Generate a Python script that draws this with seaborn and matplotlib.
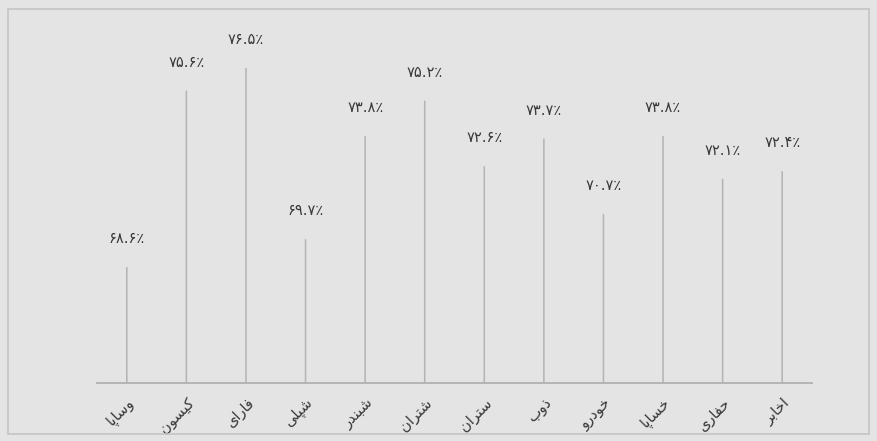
import matplotlib
matplotlib.use("Agg")
import matplotlib.pyplot as plt
import seaborn as sns
import pandas as pd
from matplotlib.patches import Rectangle

# ---- data ----
categories = ["وساپا", "کیسون", "فارای", "شپلی", "شبندر", "شتران",
              "ستران", "ذوب", "خودرو", "خساپا", "حفاری", "اخابر"]
values = [68.6, 75.6, 76.5, 69.7, 73.8, 75.2, 72.6, 73.7, 70.7, 73.8, 72.1, 72.4]

# ---- minimal Arabic/Persian shaping (no external libs) ----
FORMS = {  # isolated, final, initial, medial
    "ا": ("\uFE8D", "\uFE8E", None, None),
    "ب": ("\uFE8F", "\uFE90", "\uFE91", "\uFE92"),
    "پ": ("\uFB56", "\uFB57", "\uFB58", "\uFB59"),
    "ت": ("\uFE95", "\uFE96", "\uFE97", "\uFE98"),
    "ح": ("\uFEA1", "\uFEA2", "\uFEA3", "\uFEA4"),
    "خ": ("\uFEA5", "\uFEA6", "\uFEA7", "\uFEA8"),
    "د": ("\uFEA9", "\uFEAA", None, None),
    "ذ": ("\uFEAB", "\uFEAC", None, None),
    "ر": ("\uFEAD", "\uFEAE", None, None),
    "س": ("\uFEB1", "\uFEB2", "\uFEB3", "\uFEB4"),
    "ش": ("\uFEB5", "\uFEB6", "\uFEB7", "\uFEB8"),
    "ف": ("\uFED1", "\uFED2", "\uFED3", "\uFED4"),
    "ک": ("\uFB8E", "\uFB8F", "\uFB90", "\uFB91"),
    "ل": ("\uFEDD", "\uFEDE", "\uFEDF", "\uFEE0"),
    "ن": ("\uFEE5", "\uFEE6", "\uFEE7", "\uFEE8"),
    "و": ("\uFEED", "\uFEEE", None, None),
    "ی": ("\uFBFC", "\uFBFD", "\uFBFE", "\uFBFF"),
}


def joins_left(ch):
    return ch in FORMS and FORMS[ch][2] is not None


def shape(word):
    out = []
    n = len(word)
    for i, ch in enumerate(word):
        if ch not in FORMS:
            out.append(ch)
            continue
        prev_joins = i > 0 and joins_left(word[i - 1])
        next_exists = i < n - 1 and word[i + 1] in FORMS
        can_next = joins_left(ch) and next_exists
        iso, fin, ini, med = FORMS[ch]
        if prev_joins and can_next:
            out.append(med)
        elif prev_joins:
            out.append(fin)
        elif can_next:
            out.append(ini)
        else:
            out.append(iso)
    return "".join(reversed(out))


def fa_num(v):
    s = f"{v:.1f}"
    digits = "۰۱۲۳۴۵۶۷۸۹"
    s = "".join(digits[int(c)] if c.isdigit() else c for c in s)
    return s + "٪"


df = pd.DataFrame({"cat": categories, "val": values})

W, H = 878, 441
fig = plt.figure(figsize=(W / 100, H / 100), dpi=100)
bg = "#e4e4e4"
fig.patch.set_facecolor(bg)
ax = fig.add_axes([97 / W, 1 - 383 / H, (812 - 97) / W, (383 - 20) / H])
ax.set_facecolor(bg)

sns.barplot(data=df, x="cat", y="val", color="#b4b4b4", width=0.026,
            linewidth=0, saturation=1, ax=ax)
for p in ax.patches:
    p.set_snap(False)

ax.set_ylim(64.0, 78.4)
ax.set_xlim(-0.5, len(categories) - 0.5)

fam = ["DejaVu Sans"]
for i, v in enumerate(values):
    ax.annotate(fa_num(v), (i, v), xytext=(0, 15), textcoords="offset points",
                ha="center", va="bottom", fontsize=10.5, color="#383838",
                family=fam)

ax.set_xticks(range(len(categories)))
ax.set_xticklabels([shape(c) for c in categories], rotation=45, ha="right",
                   rotation_mode="anchor", fontsize=10.5, color="#383838",
                   family=fam)
ax.tick_params(axis="x", length=0, pad=9)
ax.set_yticks([])
ax.set_xlabel("")
ax.set_ylabel("")
for s in ["top", "right", "left"]:
    ax.spines[s].set_visible(False)
ax.spines["bottom"].set_color("#b0b0b0")
ax.spines["bottom"].set_linewidth(1.3)

fig.patches.append(Rectangle((8 / W, 1 - 434 / H), (869 - 8) / W, (434 - 9) / H,
                             transform=fig.transFigure, fill=False,
                             edgecolor="#c4c4c4", linewidth=1.2))

fig.savefig("out.png", dpi=100, facecolor=bg)
